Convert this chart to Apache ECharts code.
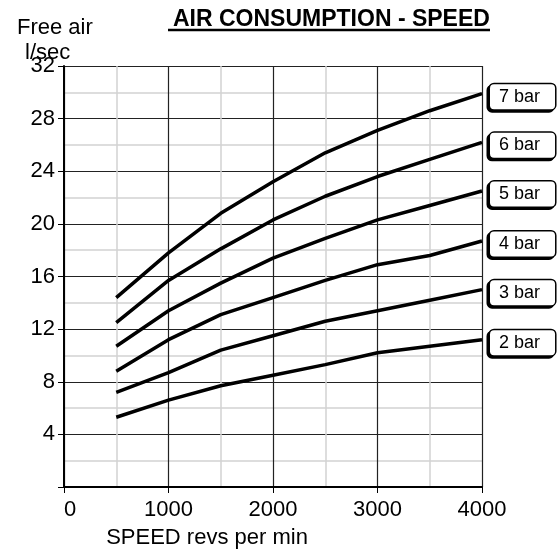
<!DOCTYPE html>
<html>
<head>
<meta charset="utf-8">
<script src="https://cdn.jsdelivr.net/npm/echarts@6/dist/echarts.min.js"></script>
<style>
html,body{margin:0;padding:0;background:#fff;}
#chart{width:558px;height:550px;}
</style>
</head>
<body>
<div id="chart"></div>
<script>
const speeds = [500, 1000, 1500, 2000, 2500, 3000, 3500, 4000];
const seriesNames = ['7 bar', '6 bar', '5 bar', '4 bar', '3 bar', '2 bar'];
const bar7 = [14.4, 17.8, 20.8, 23.2, 25.4, 27.1, 28.6, 29.9];
const bar6 = [12.5, 15.7, 18.1, 20.3, 22.1, 23.6, 24.9, 26.2];
const bar5 = [10.7, 13.4, 15.5, 17.4, 18.9, 20.3, 21.4, 22.5];
const bar4 = [8.8, 11.2, 13.1, 14.4, 15.7, 16.9, 17.6, 18.7];
const bar3 = [7.2, 8.7, 10.4, 11.5, 12.6, 13.4, 14.2, 15.0];
const bar2 = [5.3, 6.6, 7.7, 8.5, 9.3, 10.2, 10.7, 11.2];
const seriesValues = [bar7, bar6, bar5, bar4, bar3, bar2];
const titleText = 'AIR CONSUMPTION - SPEED';
const yNameLine1 = 'Free air';
const yNameLine2 = 'l/sec';
const xName = 'SPEED revs per min';

const FONT = 'Liberation Sans, Arial, sans-serif';
const chart = echarts.init(document.getElementById('chart'), null, {renderer: 'canvas'});

const series = seriesNames.map((name, i) => ({
  name: name,
  type: 'line',
  data: speeds.map((s, j) => [s, seriesValues[i][j]]),
  symbol: 'none',
  lineStyle: {color: '#000', width: 3.5},
  itemStyle: {color: '#000'},
  endLabel: {
    show: true,
    formatter: '{a}',
    distance: 8,
    offset: [0, 3],
    color: '#000',
    fontFamily: FONT,
    fontSize: 18,
    backgroundColor: '#fff',
    borderColor: '#000',
    borderWidth: 1.5,
    borderRadius: 4,
    padding: [4, 15, 3, 9],
    shadowColor: '#000',
    shadowBlur: 0,
    shadowOffsetX: -2,
    shadowOffsetY: 2
  }
}));

chart.setOption({
  animation: false,
  backgroundColor: '#fff',
  textStyle: {fontFamily: FONT},
  title: [
    {text: titleText, left: 168, top: 3,
     textStyle: {fontFamily: FONT, fontSize: 23, fontWeight: 'bold', color: '#000'}},
    {text: yNameLine1, left: 12, top: 12,
     textStyle: {fontFamily: FONT, fontSize: 22, fontWeight: 'normal', color: '#000'}},
    {text: yNameLine2, left: 20, top: 37,
     textStyle: {fontFamily: FONT, fontSize: 22, fontWeight: 'normal', color: '#000'}}
  ],
  graphic: [
    {type: 'line', shape: {x1: 168, y1: 30, x2: 490, y2: 30},
     style: {stroke: '#000', lineWidth: 2.5}}
  ],
  grid: {left: 64, right: 76, top: 66, bottom: 63, containLabel: false, outerBoundsMode: 'none'},
  xAxis: {
    type: 'value', min: 0, max: 4000, interval: 1000,
    name: xName, nameLocation: 'middle', nameGap: 40,
    nameTextStyle: {fontFamily: FONT, fontSize: 22, color: '#000', padding: [0, 132, 0, 0]},
    axisLine: {show: true, onZero: false, lineStyle: {color: '#000', width: 2}},
    axisTick: {show: true, length: 6, lineStyle: {color: '#000', width: 1}},
    axisLabel: {fontFamily: FONT, fontSize: 22, color: '#000', margin: 12,
      alignMinLabel: 'left', formatter: v => String(v)},
    splitLine: {show: true, lineStyle: {color: '#222', width: 1.2}},
    minorTick: {show: false, splitNumber: 2},
    minorSplitLine: {show: true, lineStyle: {color: '#d2d2d2', width: 1.5}}
  },
  yAxis: {
    type: 'value', min: 0, max: 32, interval: 4,
    axisLine: {show: true, onZero: false, lineStyle: {color: '#000', width: 2}},
    axisTick: {show: true, length: 6, lineStyle: {color: '#000', width: 1}},
    axisLabel: {fontFamily: FONT, fontSize: 22, color: '#000', margin: 9,
      padding: [8, 0, 0, 0],
      formatter: v => (v === 0 ? '' : String(v))},
    splitLine: {show: true, lineStyle: {color: '#222', width: 1.2}},
    minorTick: {show: false, splitNumber: 2},
    minorSplitLine: {show: true, lineStyle: {color: '#d2d2d2', width: 1.5}}
  },
  series: series
});
</script>
</body>
</html>
